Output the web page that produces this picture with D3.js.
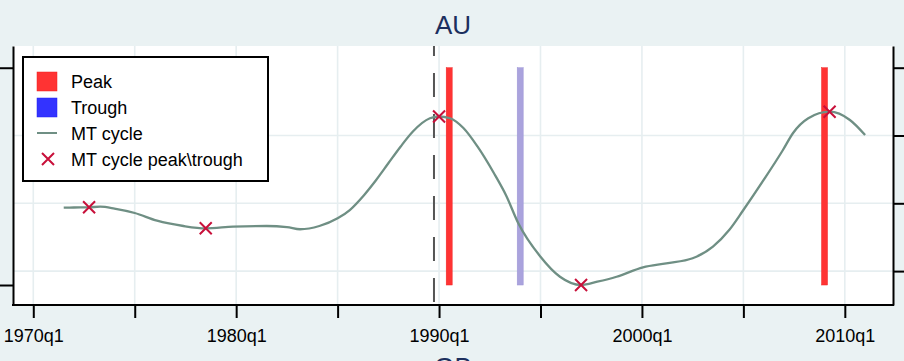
<!DOCTYPE html>
<html>
<head>
<meta charset="utf-8">
<script src="https://cdn.jsdelivr.net/npm/d3@7"></script>
<style>
  body { margin: 0; background: #eaf2f3; }
  svg { display: block; }
  text { font-family: "Liberation Sans", Arial, sans-serif; }
</style>
</head>
<body>
<script>
// MT cycle (right axis)
const cycleYears = [1971.5, 1972.0, 1972.75, 1973.3, 1974.0, 1975.0, 1976.1, 1977.4, 1978.5, 1979.85,
  1981.5, 1982.5, 1983.15, 1984.1, 1985.0, 1985.6, 1986.3, 1986.9, 1987.5, 1988.1,
  1988.7, 1989.55, 1990.0, 1990.54, 1991.2, 1991.9, 1992.7, 1993.3, 1993.9, 1995.0,
  1995.96, 1997.0, 1997.8, 1998.75, 2000.05, 2001.2, 2002.5, 2003.5, 2004.3, 2005.0,
  2006.0, 2006.95, 2007.45, 2008.2, 2009.25, 2010.25, 2011.0];
const cycleValues = [-1.065, -1.062, -1.059, -1.05, -1.077, -1.143, -1.257, -1.335, -1.369, -1.345,
  -1.335, -1.35, -1.383, -1.335, -1.221, -1.099, -0.88, -0.656, -0.41, -0.165,
  0.056, 0.254, 0.28, 0.254, 0.11, -0.165, -0.553, -0.88, -1.29, -1.788,
  -2.083, -2.205, -2.156, -2.083, -1.944, -1.885, -1.811, -1.64, -1.394, -1.099,
  -0.656, -0.214, 0.037, 0.254, 0.351, 0.229, 0.007];

// turning points of the MT cycle
const turnYears = [1972.75, 1978.5, 1990.0, 1997.0, 2009.25];
const turnValues = [-1.059, -1.369, 0.28, -2.205, 0.351];

// reference chronology (left axis, 0/1 indicators)
const peakYears = [1990.5, 2009.0];
const troughYears = [1994.0];
const markerYear = 1989.75;

const xTicks = [1970, 1975, 1980, 1985, 1990, 1995, 2000, 2005, 2010];
const xLabels = {1970: "1970q1", 1980: "1980q1", 1990: "1990q1", 2000: "2000q1", 2010: "2010q1"};
const rightTicks = [-2, -1, 0, 1];
const leftTicks = [0, 1];

const legendItems = ["Peak", "Trough", "MT cycle", "MT cycle peak\\trough"];

const W = 904, H = 361;
const m = {top: 46, bottom: 56, left: 13, right: 11};

const svg = d3.select("body").append("svg")
    .attr("width", W)
    .attr("height", H);

const x = d3.scaleLinear().domain([1969, 2012.375]).range([m.left, W - m.right]);
const yL = d3.scaleLinear().domain([-0.092, 1.1]).range([H - m.bottom, m.top]);
const yR = d3.scaleLinear().domain([-2.5, 1.32]).range([H - m.bottom, m.top]);

// plot region
svg.append("rect")
    .attr("x", m.left).attr("y", m.top)
    .attr("width", W - m.left - m.right)
    .attr("height", H - m.top - m.bottom)
    .attr("fill", "#fff");

// grid
const grid = svg.append("g").attr("stroke", "#e6eef0").attr("stroke-width", 1.6);
grid.selectAll(".vg").data(xTicks).enter().append("line")
    .attr("x1", d => x(d)).attr("x2", d => x(d))
    .attr("y1", m.top).attr("y2", H - m.bottom);
grid.selectAll(".hg").data(rightTicks.filter(d => d < 1)).enter().append("line")
    .attr("x1", m.left).attr("x2", W - m.right)
    .attr("y1", d => yR(d)).attr("y2", d => yR(d));

// dashed reference line
svg.append("line")
    .attr("x1", x(markerYear)).attr("x2", x(markerYear))
    .attr("y1", m.top).attr("y2", H - m.bottom)
    .attr("stroke", "#555").attr("stroke-width", 2)
    .attr("stroke-dasharray", "24,17")
    .attr("stroke-dashoffset", 14);

// peak / trough bars
const bw = 6;
svg.selectAll(".peak").data(peakYears).enter().append("rect")
    .attr("x", d => x(d) - bw / 2).attr("width", bw)
    .attr("y", yL(1)).attr("height", yL(0) - yL(1))
    .attr("fill", "#ff3333").attr("stroke", "#f02828").attr("stroke-width", 0.5);
svg.selectAll(".trough").data(troughYears).enter().append("rect")
    .attr("x", d => x(d) - bw / 2).attr("width", bw)
    .attr("y", yL(1)).attr("height", yL(0) - yL(1))
    .attr("fill", "#aaa3dd").attr("stroke", "#9d95d6").attr("stroke-width", 0.5);

// MT cycle line
const cycle = cycleYears.map((t, i) => [t, cycleValues[i]]);
svg.append("path")
    .datum(cycle)
    .attr("fill", "none")
    .attr("stroke", "#6f8f84")
    .attr("stroke-width", 2.3)
    .attr("d", d3.line().x(d => x(d[0])).y(d => yR(d[1])).curve(d3.curveMonotoneX));

// turning point markers
const xm = (g, cx, cy, r) => {
  g.append("path")
    .attr("d", `M${cx - r},${cy - r}L${cx + r},${cy + r}M${cx - r},${cy + r}L${cx + r},${cy - r}`)
    .attr("stroke", "#c8103a").attr("stroke-width", 2).attr("fill", "none");
};
const marks = svg.append("g");
turnYears.forEach((t, i) => xm(marks, x(t), yR(turnValues[i]), 6));

// axes
const xAxis = svg.append("g")
    .attr("transform", `translate(0,${H - m.bottom})`)
    .call(d3.axisBottom(x).tickValues(xTicks).tickSize(13).tickSizeOuter(0).tickPadding(11)
      .tickFormat(d => xLabels[d] || ""));
const leftAxis = svg.append("g")
    .attr("transform", `translate(${m.left},0)`)
    .call(d3.axisLeft(yL).tickValues(leftTicks).tickSize(13).tickSizeOuter(0).tickFormat(""));
const rightAxis = svg.append("g")
    .attr("transform", `translate(${W - m.right},0)`)
    .call(d3.axisRight(yR).tickValues(rightTicks).tickSize(13).tickSizeOuter(0).tickFormat(""));

[xAxis, leftAxis, rightAxis].forEach(a => {
  a.select(".domain").attr("stroke", "#000").attr("stroke-width", 2);
  a.selectAll(".tick line").attr("stroke", "#000").attr("stroke-width", 2);
});
// close corners
xAxis.select(".domain").attr("d", `M${m.left - 1},0H${W - m.right + 1}`);
xAxis.selectAll("text").attr("font-size", 18).attr("fill", "#000")
    .attr("font-family", "Liberation Sans, Arial, sans-serif");

// legend
const lg = svg.append("g").attr("transform", "translate(23,57)");
lg.append("rect").attr("width", 245).attr("height", 124)
    .attr("fill", "#fff").attr("stroke", "#000").attr("stroke-width", 2);
const rowY = [24, 50, 76, 102];
lg.append("rect").attr("x", 14).attr("y", rowY[0] - 9).attr("width", 20).attr("height", 19)
    .attr("fill", "#ff3333").attr("stroke", "#f02020").attr("stroke-width", 0.5);
lg.append("rect").attr("x", 14).attr("y", rowY[1] - 9).attr("width", 20).attr("height", 19)
    .attr("fill", "#3333ff").attr("stroke", "#2020f0").attr("stroke-width", 0.5);
lg.append("line").attr("x1", 14).attr("x2", 34).attr("y1", rowY[2]).attr("y2", rowY[2])
    .attr("stroke", "#6f8f84").attr("stroke-width", 2);
xm(lg, 25, rowY[3], 6);
lg.selectAll(".lt").data(legendItems).enter().append("text")
    .attr("x", 48).attr("y", (d, i) => rowY[i] + 7)
    .attr("font-size", 18).attr("fill", "#000")
    .text(d => d);

// titles (the next panel's title peeks in at the bottom edge, as in the original)
svg.append("text").attr("x", 453).attr("y", 34)
    .attr("text-anchor", "middle").attr("font-size", 26).attr("fill", "#1c2f5e")
    .text("AU");
svg.append("text").attr("x", 453).attr("y", 376)
    .attr("text-anchor", "middle").attr("font-size", 26).attr("fill", "#1c2f5e")
    .text("GB");
</script>
</body>
</html>
